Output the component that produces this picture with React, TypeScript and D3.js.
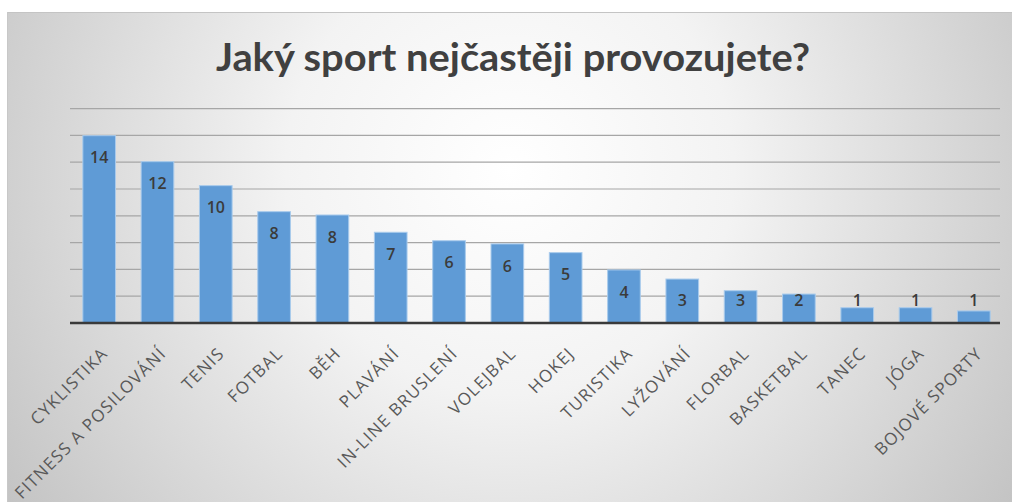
import React from 'react';
import * as d3 from 'd3';

const width = 1012;
const height = 502;
const margin = { top: 108.6, right: 9, bottom: 179, left: 70 };

// sports
const categories = [
  'CYKLISTIKA', 'FITNESS A POSILOVÁNÍ', 'TENIS', 'FOTBAL', 'BĚH', 'PLAVÁNÍ',
  'IN-LINE BRUSLENÍ', 'VOLEJBAL', 'HOKEJ', 'TURISTIKA', 'LYŽOVÁNÍ', 'FLORBAL',
  'BASKETBAL', 'TANEC', 'JÓGA', 'BOJOVÉ SPORTY',
];
// bar heights as drawn (in gridline units, 2 per line)
const barValues = [13.98, 12.04, 10.25, 8.31, 8.06, 6.77, 6.14, 5.9, 5.25, 3.96, 3.28, 2.41, 2.16, 1.14, 1.14, 0.9];
// the numbers printed on the bars
const barLabels = ['14', '12', '10', '8', '8', '7', '6', '6', '5', '4', '3', '3', '2', '1', '1', '1'];
const gridTicks = [2, 4, 6, 8, 10, 12, 14, 16];

const title = 'Jaký sport nejčastěji provozujete?';

export default function App() {
  const xScale = d3.scaleBand<string>()
    .domain(categories)
    .range([margin.left, width - margin.right])
    .paddingInner(0.44)
    .paddingOuter(0.22);
  const yScale = d3.scaleLinear()
    .domain([0, 16])
    .range([height - margin.bottom, margin.top]);

  const base = yScale(0);
  const gridX1 = margin.left;
  const gridX2 = 1000;

  return (
    <svg width={width} height={height}
      style={{ position: 'absolute', left: 0, top: 0, display: 'block' }}
      fontFamily="'Open Sans', Lato, sans-serif">
      <defs>
        <radialGradient id="bg" gradientUnits="userSpaceOnUse" cx={510} cy={170} r={640}>
          <stop offset="0" stopColor="#ffffff" />
          <stop offset="0.35" stopColor="#f3f3f3" />
          <stop offset="1" stopColor="#bfbfbf" />
        </radialGradient>
      </defs>
      <rect x={0} y={0} width={width} height={height} fill="#ffffff" />
      <rect x={7} y={12} width={width - 7} height={height - 12} fill="url(#bg)" />
      <line x1={7} x2={width} y1={12.5} y2={12.5} stroke="#c4c4c4" />
      <line x1={7.5} x2={7.5} y1={12} y2={height} stroke="#c8c8c8" />

      <text x={513} y={71} textAnchor="middle" fontSize={39} fontWeight={700}
        fontFamily="Lato, sans-serif" fill="#404040" textLength={594}
        lengthAdjust="spacingAndGlyphs">{title}</text>

      {gridTicks.map(t => (
        <line key={t} x1={gridX1} x2={gridX2} y1={yScale(t)} y2={yScale(t)}
          stroke="#a6a6a6" strokeWidth={1.2} />
      ))}

      {categories.map((c, i) => {
        const x = xScale(c) as number;
        const y = yScale(barValues[i]);
        return (
          <rect key={c} x={x} y={y} width={xScale.bandwidth()} height={base - y}
            fill="#5f9bd6" stroke="#a9cbec" strokeWidth={1} />
        );
      })}

      <line x1={gridX1} x2={gridX2} y1={base} y2={base} stroke="#3a3a3a" strokeWidth={2.6} />

      {categories.map((c, i) => {
        const cx = (xScale(c) as number) + xScale.bandwidth() / 2;
        const ly = Math.min(yScale(barValues[i]) + 22, base - 23);
        return (
          <text key={c} x={cx} y={ly} dy="0.36em" textAnchor="middle" fontSize={16}
            fontWeight={600} fill="#3b3b3b">{barLabels[i]}</text>
        );
      })}

      {categories.map(c => {
        const cx = (xScale(c) as number) + xScale.bandwidth() / 2;
        return (
          <text key={c} transform={`translate(${cx + 1},${base + 23}) rotate(-45)`}
            dy="0.72em" textAnchor="end" fontSize={17} letterSpacing={1.2}
            fill="#595959">{c}</text>
        );
      })}
    </svg>
  );
}
